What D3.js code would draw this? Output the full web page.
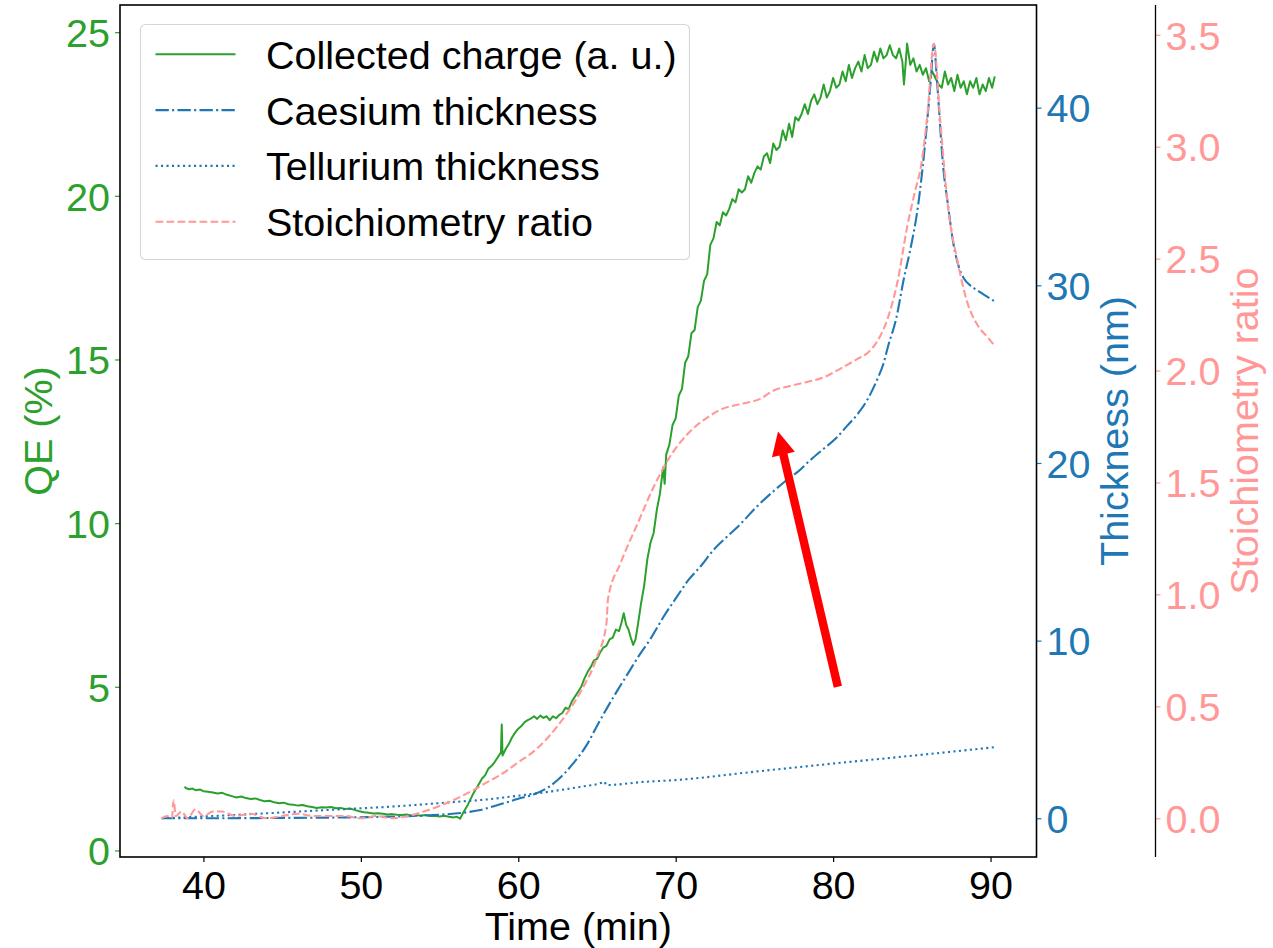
<!DOCTYPE html>
<html><head><meta charset="utf-8">
<script src="https://cdn.jsdelivr.net/npm/d3@7"></script>
<style>
body{margin:0;background:#fff}
text{font-family:"Liberation Sans",Arial,Helvetica,sans-serif}
</style>
</head><body>
<svg id="chart" width="1273" height="948"></svg>
<script>
// ---------------- data ----------------
const chargeTime = [38.8,38.9,39.1,39.3,39.5,39.8,40.0,40.3,40.6,40.9,41.2,41.5,41.8,42.1,42.4,42.7,43.0,43.3,43.6,43.9,44.2,44.5,44.8,45.1,45.4,45.7,46.0,46.3,46.6,46.9,47.2,47.5,47.8,48.1,48.4,48.7,49.0,49.3,49.6,49.9,50.2,50.5,50.8,51.1,51.4,51.7,52.0,52.3,52.6,52.9,53.2,53.5,53.8,54.1,54.4,54.7,55.0,55.3,55.6,55.9,56.1,56.3,
56.5,56.8,57.1,57.4,57.7,57.9,58.1,58.3,58.5,58.7,58.9,58.95,59.0,59.2,59.4,59.6,59.8,60.0,60.2,60.4,60.6,60.8,61.0,61.2,61.4,61.6,61.8,62.0,62.2,62.4,62.6,62.8,63.0,63.2,63.4,63.6,63.8,64.0,64.2,64.4,64.6,64.8,65.0,65.2,65.4,65.6,65.8,66.0,66.2,66.4,66.55,66.7,66.85,67.0,67.15,67.3,67.45,67.6,67.8,68.0,
68.2,68.4,68.6,68.8,69.0,69.2,69.3,69.4,69.6,69.8,70.0,70.2,70.4,70.6,70.8,71.0,71.2,71.4,71.6,71.8,72.0,72.2,72.4,72.6,72.8,73.0,73.2,73.4,73.6,73.8,74.0,74.2,74.4,74.6,74.8,75.0,75.2,75.4,75.6,75.8,76.0,76.2,76.4,76.6,76.8,77.0,77.2,77.4,77.6,77.8,78.0,78.2,78.4,78.6,78.8,79.0,79.2,79.4,79.6,79.8,80.0,80.2,80.4,80.6,80.8,81.0,81.2,81.4,81.6,81.8,82.0,82.2,82.4,82.6,82.8,83.0,83.2,83.4,83.6,83.8,84.0,84.2,84.4,84.5,84.6,84.7,84.9,85.1,85.3,85.5,85.7,85.9,86.1,86.3,86.5,86.7,86.9,87.1,87.3,87.5,87.7,87.9,88.1,88.3,88.5,88.7,88.9,89.1,89.3,89.5,89.7,89.9,90.1,90.27];
const chargeQE = [1.95,1.9,1.87,1.89,1.84,1.86,1.81,1.79,1.77,1.74,1.76,1.7,1.66,1.62,1.65,1.6,1.57,1.59,1.54,1.5,1.52,1.47,1.44,1.46,1.41,1.4,1.37,1.39,1.35,1.33,1.3,1.32,1.31,1.33,1.29,1.3,1.27,1.28,1.24,1.2,1.17,1.15,1.13,1.14,1.12,1.1,1.11,1.09,1.08,1.1,1.07,1.08,1.06,1.08,1.05,1.06,1.04,1.06,1.03,1.01,1.03,0.97,
1.15,1.4,1.7,1.95,2.2,2.3,2.5,2.58,2.7,2.85,3.0,3.85,2.9,3.1,3.25,3.45,3.6,3.72,3.8,3.92,3.98,4.03,4.1,4.02,4.12,4.05,4.1,3.98,4.1,4.04,4.14,4.2,4.36,4.32,4.55,4.7,4.85,5.0,5.25,5.45,5.6,5.8,5.85,6.05,6.2,6.25,6.45,6.5,6.75,6.7,6.95,7.25,6.9,6.75,6.5,6.28,6.45,6.9,7.55,8.1,
8.9,9.4,9.7,10.4,10.9,11.7,11.2,12.1,12.4,13.0,13.2,13.9,14.1,14.9,15.1,15.8,15.9,16.6,16.8,17.4,17.6,18.5,18.7,19.2,19.1,19.5,19.4,19.6,19.9,19.8,20.2,20.1,20.2,20.6,20.4,20.7,20.9,20.8,21.2,21.3,21.0,21.6,21.4,21.5,22.0,21.7,22.2,21.8,22.4,22.3,22.5,22.8,22.5,22.9,23.1,22.8,23.0,23.4,23.0,23.2,23.6,23.3,23.4,23.8,23.5,24.0,23.6,23.9,24.1,23.8,24.3,23.9,24.0,24.4,24.1,24.5,24.2,24.3,24.6,24.3,24.2,24.5,24.1,23.4,24.0,24.65,24.0,24.2,23.8,24.0,23.7,23.9,23.5,23.8,23.6,23.4,23.3,23.8,23.4,23.6,23.2,23.7,23.3,23.5,23.1,23.5,23.3,23.6,23.1,23.4,23.2,23.6,23.3,23.65];

const caesiumTime = [37.35,40,45,50,53,55,56.4,57.5,58.9,60,61,62,62.5,63.5,64.4,65,65.7,66.3,67,67.7,68.4,69.2,70.1,70.8,71.6,72.4,73.2,74.1,75.1,76.2,77,77.75,78.6,79.4,80.2,80.9,81.6,82.2,82.8,83.2,83.5,84,84.5,84.9,85.4,85.9,86.2,86.4,86.6,87,87.3,87.65,88,88.3,88.7,89.2,89.7,90.27];
const caesiumNm = [0,0,0.02,0.06,0.12,0.2,0.3,0.45,0.8,1.1,1.35,1.8,2.15,3.1,4.2,5.2,6.3,7.2,8.2,9.2,10.1,11.3,12.5,13.4,14.2,15.1,15.8,16.55,17.5,18.4,19.0,19.5,20.2,20.8,21.4,22.1,22.8,23.6,24.7,25.6,26.6,28.1,30.4,32.0,34.5,38.5,41.5,43.6,41.5,36.6,34.5,32.3,31.0,30.4,30.0,29.7,29.4,29.1];

const telluriumTime = [37.35,40,44,48,52,56,58,60,62,64,65.3,65.45,65.6,68,70,75,80,85,90.27];
const telluriumNm = [0,0.1,0.28,0.47,0.66,0.92,1.06,1.27,1.5,1.78,2.0,2.07,1.87,2.05,2.15,2.62,3.08,3.52,4.0];

const stoichTime = [37.35,37.7,38.0,38.1,38.25,38.6,39.0,39.5,40,40.6,41.2,42,43,44,45,46,47,48,49,50,51,52,53,54,55,56,57,58,59,60,61,62,63,64,65,65.6,65.7,66.5,67.6,68.6,69.5,70.8,72,73,74.1,75.4,76.2,77.2,78.4,79.4,80.5,81.5,82.2,82.8,83.5,84.1,84.7,85.2,85.6,86,86.4,86.8,87.3,87.9,88.5,89.2,89.8,90.27];
const stoichRatio = [0,0.01,0,0.08,0.01,0.03,0,0.04,0.01,0.03,0.03,0.01,0.02,0,0.01,0.02,0.01,0.01,0.01,0,0.01,0,0.01,0.03,0.055,0.085,0.12,0.16,0.2,0.25,0.3,0.37,0.46,0.57,0.72,0.87,0.98,1.14,1.32,1.48,1.6,1.72,1.79,1.83,1.85,1.875,1.91,1.93,1.95,1.97,2.01,2.05,2.08,2.13,2.24,2.4,2.64,2.8,2.92,3.15,3.46,3.12,2.73,2.49,2.31,2.2,2.15,2.11];

const xTicks = [40,50,60,70,80,90];
const qeTicks = [0,5,10,15,20,25];
const thickTicks = [0,10,20,30,40];
const stoichTicks = [0,0.5,1.0,1.5,2.0,2.5,3.0,3.5];
const legendLabels = ["Collected charge (a. u.)","Caesium thickness","Tellurium thickness","Stoichiometry ratio"];
const arrowFrom = [80.3, 5.0];
const arrowTo = [76.5, 12.8];

// ---------------- layout ----------------
const svg = d3.select("#chart");
const L = 120, R = 1036.5, T = 5, B = 857, S3 = 1155.5;
const FS = 39.5;
const C = {green:"#2ca02c", blue:"#1f77b4", pink:"#ff9896", red:"#ff0000"};

const x = d3.scaleLinear().domain([34.7, 92.92]).range([L, R]);
const yQE = d3.scaleLinear().domain([-0.2, 25.83]).range([B, T]);
const yTh = d3.scaleLinear().domain([-2.18, 45.78]).range([B, T]);
const yS = d3.scaleLinear().domain([-0.173, 3.633]).range([B, T]);

svg.append("rect").attr("width",1273).attr("height",948).attr("fill","#fff");

function path(xs, ys, ysc, curve){
  return d3.line().x((d,i)=>x(xs[i])).y((d,i)=>ysc(ys[i])).curve(curve)(xs);
}
const plot = svg.append("g");
plot.append("path").attr("d", path(chargeTime, chargeQE, yQE, d3.curveLinear))
  .attr("fill","none").attr("stroke",C.green).attr("stroke-width",2).attr("stroke-linejoin","round");
plot.append("path").attr("d", path(caesiumTime, caesiumNm, yTh, d3.curveMonotoneX))
  .attr("fill","none").attr("stroke",C.blue).attr("stroke-width",2.1).attr("stroke-dasharray","13.3,3.3,2.1,3.3");
plot.append("path").attr("d", path(telluriumTime, telluriumNm, yTh, d3.curveMonotoneX))
  .attr("fill","none").attr("stroke",C.blue).attr("stroke-width",2.1).attr("stroke-dasharray","2.1,3.4");
plot.append("path").attr("d", path(stoichTime, stoichRatio, yS, d3.curveMonotoneX))
  .attr("fill","none").attr("stroke",C.pink).attr("stroke-width",2.1).attr("stroke-dasharray","7.7,3.3");

// ---------------- axes ----------------
function styleAxis(g, color){
  g.select(".domain").remove();
  g.selectAll(".tick line").attr("stroke",color).attr("stroke-width",1.2);
  g.selectAll(".tick text").attr("fill",color).style("font-size",FS+"px")
    .style("font-family",'"Liberation Sans",Arial,sans-serif');
}
svg.append("g").attr("transform",`translate(0,${B})`)
  .call(d3.axisBottom(x).tickValues(xTicks).tickSize(5).tickPadding(5).tickFormat(d3.format("d")))
  .call(g=>styleAxis(g,"#000"))
  .call(g=>g.selectAll(".tick text").attr("y",41.5).attr("dy",null));
svg.append("g").attr("transform",`translate(${L},0)`)
  .call(d3.axisLeft(yQE).tickValues(qeTicks).tickSize(5).tickPadding(5).tickFormat(d3.format("d")))
  .call(g=>styleAxis(g,C.green))
  .call(g=>g.selectAll(".tick text").attr("dy","0.36em"));
svg.append("g").attr("transform",`translate(${R},0)`)
  .call(d3.axisRight(yTh).tickValues(thickTicks).tickSize(5).tickPadding(5).tickFormat(d3.format("d")))
  .call(g=>styleAxis(g,C.blue))
  .call(g=>g.selectAll(".tick text").attr("dy","0.36em"));
svg.append("g").attr("transform",`translate(${S3},0)`)
  .call(d3.axisRight(yS).tickValues(stoichTicks).tickSize(5).tickPadding(5).tickFormat(d3.format(".1f")))
  .call(g=>styleAxis(g,C.pink))
  .call(g=>g.selectAll(".tick text").attr("dy","0.36em"));

// spines
svg.append("rect").attr("x",L).attr("y",T).attr("width",R-L).attr("height",B-T)
  .attr("fill","none").attr("stroke","#000").attr("stroke-width",1.6);
svg.append("line").attr("x1",S3).attr("x2",S3).attr("y1",T).attr("y2",B)
  .attr("stroke","#000").attr("stroke-width",1.3);

// axis titles
svg.append("text").attr("x",(L+R)/2).attr("y",940).attr("text-anchor","middle")
  .style("font-size",FS+"px").attr("fill","#000").text("Time (min)");
svg.append("text").attr("transform",`translate(52,${(T+B)/2}) rotate(-90)`).attr("text-anchor","middle")
  .style("font-size",FS+"px").attr("fill",C.green).text("QE (%)");
svg.append("text").attr("transform",`translate(1128,${(T+B)/2}) rotate(-90)`).attr("text-anchor","middle")
  .style("font-size",FS+"px").attr("fill",C.blue).text("Thickness (nm)");
svg.append("text").attr("transform",`translate(1258,${(T+B)/2}) rotate(-90)`).attr("text-anchor","middle")
  .style("font-size",FS+"px").attr("fill",C.pink).text("Stoichiometry ratio");

// ---------------- arrow ----------------
(function(){
  const x0 = x(arrowFrom[0]), y0 = yQE(arrowFrom[1]);
  const x1 = x(arrowTo[0]), y1 = yQE(arrowTo[1]);
  const dx = x1-x0, dy = y1-y0, len = Math.hypot(dx,dy);
  const ux = dx/len, uy = dy/len, nx = -uy, ny = ux;
  const sw = 4.2, hw = 11.7, hl = 23.6;
  const bx = x1 - ux*hl, by = y1 - uy*hl;
  const pts = [
    [x0+nx*sw, y0+ny*sw],[bx+nx*sw, by+ny*sw],[bx+nx*hw, by+ny*hw],[x1,y1],
    [bx-nx*hw, by-ny*hw],[bx-nx*sw, by-ny*sw],[x0-nx*sw, y0-ny*sw]];
  svg.append("polygon").attr("points", pts.map(p=>p.join(",")).join(" ")).attr("fill",C.red);
})();

// ---------------- legend ----------------
const lg = svg.append("g");
lg.append("rect").attr("x",140.5).attr("y",24.5).attr("width",549).attr("height",235).attr("rx",5)
  .attr("fill","#fff").attr("fill-opacity",0.8).attr("stroke","#d6d6d6").attr("stroke-width",1.1);
const legendStyles = [
  {color:C.green, dash:null},
  {color:C.blue, dash:"13.3,3.3,2.1,3.3"},
  {color:C.blue, dash:"2.1,3.4"},
  {color:C.pink, dash:"7.7,3.3"}];
legendLabels.forEach((lab,i)=>{
  const yy = 54.3 + i*55.8;
  lg.append("line").attr("x1",155.5).attr("x2",235.5).attr("y1",yy).attr("y2",yy)
    .attr("stroke",legendStyles[i].color).attr("stroke-width",2.1)
    .attr("stroke-dasharray",legendStyles[i].dash);
  lg.append("text").attr("x",266).attr("y",yy+14.5).style("font-size",FS+"px").attr("fill","#000").text(lab);
});
</script>
</body></html>
